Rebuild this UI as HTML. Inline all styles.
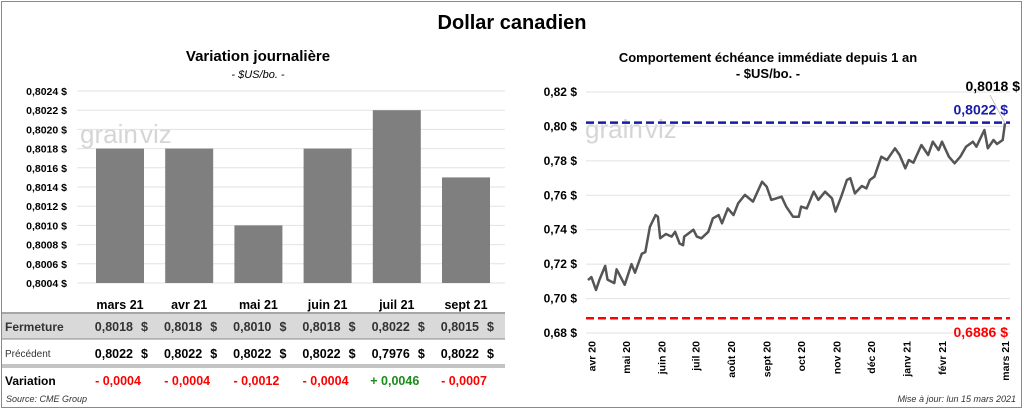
<!DOCTYPE html>
<html><head><meta charset="utf-8"><style>
body{margin:0;background:#fff;font-family:"Liberation Sans",Arial,sans-serif}
svg text{font-family:"Liberation Sans",Arial,sans-serif}
</style></head><body>
<svg id="s" width="1024" height="410" xmlns="http://www.w3.org/2000/svg">
<rect x="1.5" y="1.5" width="1020" height="406" fill="#fff" stroke="#8a8a8a"/>
<text x="512" y="29" text-anchor="middle" font-size="20" font-weight="bold">Dollar canadien</text>
<text x="258" y="61" text-anchor="middle" font-size="15" font-weight="bold">Variation  journalière</text>
<text x="258" y="78" text-anchor="middle" font-size="11" font-style="italic">- $US/bo. -</text>
<text x="768" y="62" text-anchor="middle" font-size="13" font-weight="bold">Comportement échéance immédiate depuis 1 an</text>
<text x="768" y="78" text-anchor="middle" font-size="13" font-weight="bold">- $US/bo. -</text>
<g opacity="0.35"><text x="80" y="143" font-size="26" fill="#888">grain</text><text x="140" y="143" font-size="26" fill="#888">viz</text></g>
<g opacity="0.35"><text x="585" y="138" font-size="26" fill="#888">grain</text><text x="645" y="138" font-size="26" fill="#888">viz</text></g>
<g id="left"></g><g id="right"></g><g id="table"></g>
<text x="6" y="402" font-size="9" font-style="italic" fill="#333">Source: CME Group</text>
<text x="1016" y="402" text-anchor="end" font-size="9" font-style="italic" fill="#333">Mise à jour: lun 15 mars 2021</text>
</svg>
<script>
const barCats=["mars 21","avr 21","mai 21","juin 21","juil 21","sept 21"];
const barVals=[0.8018,0.8018,0.8010,0.8018,0.8022,0.8015];
const closeLabels=["0,8018","0,8018","0,8010","0,8018","0,8022","0,8015"];
const prevLabels=["0,8022","0,8022","0,8022","0,8022","0,7976","0,8022"];
const varLabels=["- 0,0004","- 0,0004","- 0,0012","- 0,0004","+ 0,0046","- 0,0007"];
const leftTicks=[0.8004,0.8006,0.8008,0.8010,0.8012,0.8014,0.8016,0.8018,0.8020,0.8022,0.8024];
const lineDays=[0,3,7,10,15,17,23,25,32,38,41,47,50,54,59,61,63,68,73,76,80,83,84,92,95,99,105,109,114,117,122,127,131,137,144,152,156,160,169,173,179,184,186,191,197,201,207,213,216,221,226,229,233,239,243,246,250,256,261,268,272,277,280,284,291,297,301,306,309,315,320,325,330,336,339,346,349,354,357,362,364];
const lineVals=[.7107,.7125,.705,.711,.719,.711,.709,.717,.708,.720,.715,.726,.727,.7417,.7485,.7475,.735,.7375,.736,.7388,.732,.731,.736,.740,.736,.735,.7388,.7466,.7485,.7437,.7524,.7485,.7553,.7602,.7563,.7679,.765,.7573,.7592,.7534,.7475,.7475,.7534,.7524,.7621,.7573,.7621,.7582,.7505,.7592,.7689,.7699,.7611,.7654,.764,.7689,.7708,.7824,.7805,.7873,.7834,.7757,.7805,.7789,.7892,.7834,.7911,.7863,.7911,.7824,.7786,.7824,.7882,.7911,.7882,.7979,.7873,.7921,.7898,.7921,.8018];
const rightTicks=[0.68,0.70,0.72,0.74,0.76,0.78,0.80,0.82];
const monthLabels=["avr 20","mai 20","juin 20","juil 20","août 20","sept 20","oct 20","nov 20","déc 20","janv 21","févr 21","mars 21"];
const monthDays=[3,33,64,94,125,156,186,217,247,278,309,364];
const maxLevel=0.8022, minLevel=0.6886;
const NS="http://www.w3.org/2000/svg";
function mk(p,t,a,txt){const e=document.createElementNS(NS,t);for(const k in a)e.setAttribute(k,a[k]);if(txt!==undefined)e.textContent=txt;p.appendChild(e);return e;}
const fmt=v=>v.toFixed(4).replace('.',',')+' $';
// left chart
const L=document.getElementById('left');
const ly=v=>283-(v-0.8004)/0.0002*19.2;
const bx=i=>120+i*69.2;
leftTicks.forEach(t=>{
 const g=mk(L,'line',{x1:77,x2:505,y1:ly(t),y2:ly(t),stroke:'#e2e2e2'});
 
 const tx=mk(L,'text',{x:67,y:ly(t)+4,'text-anchor':'end','font-size':10.5,'font-weight':'bold'},fmt(t));
 
});
barVals.forEach((v,i)=>{
 const r=mk(L,'rect',{x:bx(i)-24,y:ly(v),width:48,height:283-ly(v),fill:'#7f7f7f'});
 
});
// table
const T=document.getElementById('table');
mk(T,'rect',{x:2,y:314,width:503,height:25,fill:'#d9d9d9'});
[[313,'#888',1.5],[339,'#888',1],[365,'#888',1],[367,'#888',1]].forEach(l=>mk(T,'line',{x1:2,x2:505,y1:l[0],y2:l[0],stroke:l[1],'stroke-width':l[2]}));
const r1=mk(T,'text',{x:5,y:331,'font-size':12,'font-weight':'bold',fill:'#333'},'Fermeture');
const r2=mk(T,'text',{x:5,y:357,'font-size':10,fill:'#333'},'Précédent');
const r3=mk(T,'text',{x:5,y:385,'font-size':12,'font-weight':'bold'},'Variation');
barCats.forEach((c,i)=>{
 const x=bx(i);
 const h=mk(T,'text',{x:x,y:309,'text-anchor':'middle','font-size':12.5,'font-weight':'bold'},c);
 
 const a=mk(T,'text',{x:x+13,y:331,'text-anchor':'end','font-size':12.5,'font-weight':'bold',fill:'#333'},closeLabels[i]);
 
 mk(T,'text',{x:x+28,y:331,'text-anchor':'end','font-size':12.5,'font-weight':'bold',fill:'#333'},'$');
 const b=mk(T,'text',{x:x+13,y:358,'text-anchor':'end','font-size':12.5,'font-weight':'bold'},prevLabels[i]);
 
 mk(T,'text',{x:x+28,y:358,'text-anchor':'end','font-size':12.5,'font-weight':'bold'},'$');
 const d=mk(T,'text',{x:x-2,y:385,'text-anchor':'middle','font-size':12.5,'font-weight':'bold',fill:varLabels[i][0]=='+'?'#1a8c1a':'#ff0000'},varLabels[i]);
 
});
// right chart
const R=document.getElementById('right');
const ry=v=>333-(v-0.68)/0.02*34.43;
const rx=d=>588+d/364*417;
rightTicks.forEach(t=>{
 const g=mk(R,'line',{x1:586,x2:1010,y1:ry(t),y2:ry(t),stroke:'#e2e2e2'});
 
 const tx=mk(R,'text',{x:577,y:ry(t)+4,'text-anchor':'end','font-size':12,'font-weight':'bold'},t.toFixed(2).replace('.',',')+' $');
 
});
const mx=mk(R,'line',{x1:586,x2:1010,y1:ry(maxLevel),y2:ry(maxLevel),stroke:'#1a1aaa','stroke-width':2.5,'stroke-dasharray':'8,4'});

const mn=mk(R,'line',{x1:586,x2:1010,y1:ry(minLevel),y2:ry(minLevel),stroke:'#ff0000','stroke-width':2.5,'stroke-dasharray':'8,4'});

const ml=mk(R,'text',{x:1008,y:ry(maxLevel)-8,'text-anchor':'end','font-size':14,'font-weight':'bold',fill:'#1a1aaa'},fmt(maxLevel).replace(' $','  $'));

const nl=mk(R,'text',{x:1008,y:ry(minLevel)+19,'text-anchor':'end','font-size':14,'font-weight':'bold',fill:'#ff0000'},fmt(minLevel).replace(' $','  $'));

const last=lineVals[lineVals.length-1];
const lst=mk(R,'text',{x:1020,y:91,'text-anchor':'end','font-size':14,'font-weight':'bold'},fmt(last));

mk(R,'line',{x1:990,y1:95,x2:rx(lineDays[lineDays.length-1]),y2:ry(last),stroke:'#aaa','stroke-width':0.7});
const pts=lineDays.map((d,i)=>rx(d).toFixed(1)+','+ry(lineVals[i]).toFixed(1)).join(' ');
const pl=mk(R,'polyline',{points:pts,fill:'none',stroke:'#555','stroke-width':2.5,'stroke-linejoin':'round'});

monthLabels.forEach((m,i)=>{
 const x=rx(monthDays[i])+4;
 const t=mk(R,'text',{x:0,y:0,'text-anchor':'end','font-size':10.5,'font-weight':'bold',transform:`translate(${x},341) rotate(-90)`},m);
 
});
</script>
</body></html>
